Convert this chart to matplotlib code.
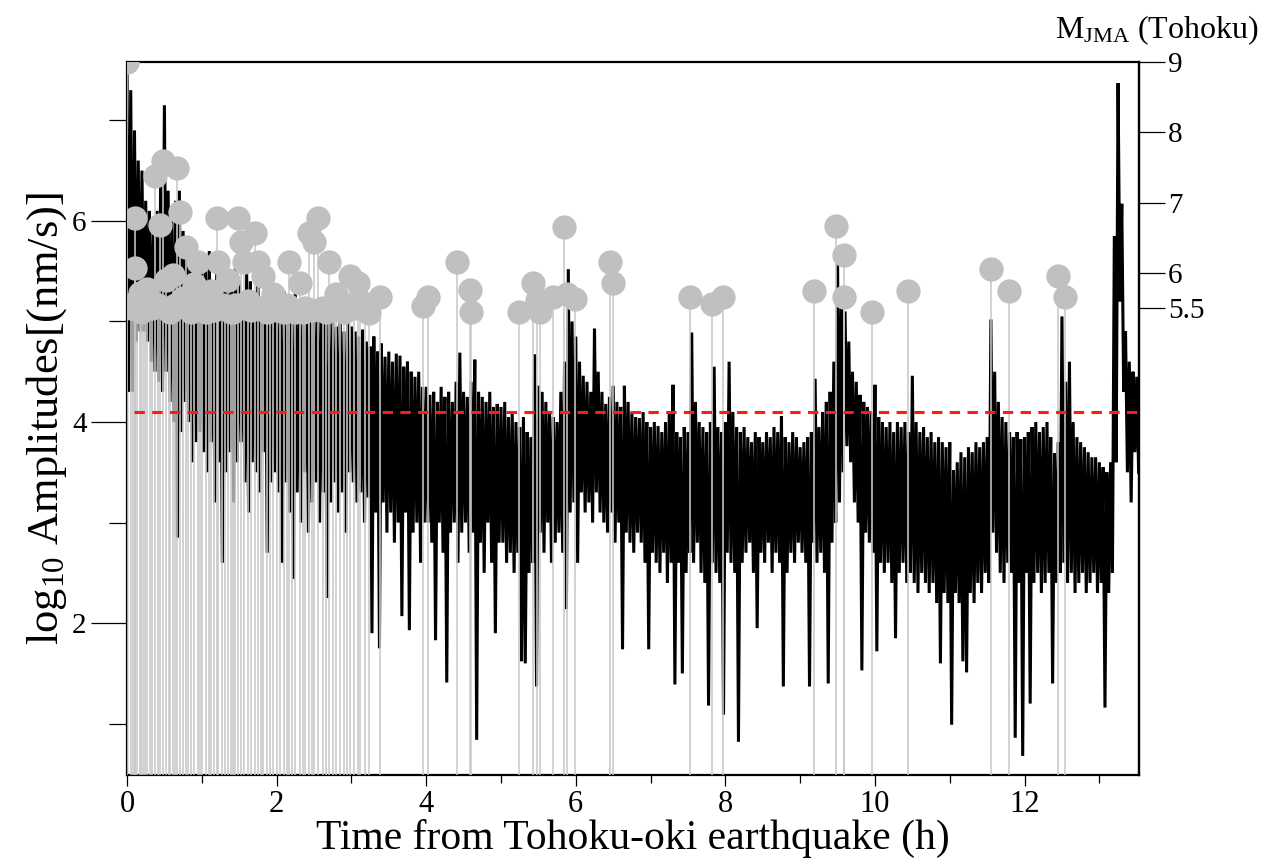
import numpy as np
import matplotlib
matplotlib.use("Agg")
import matplotlib.pyplot as plt
from matplotlib.ticker import FixedLocator

plt.rcParams['font.family'] = ['Liberation Serif', 'DejaVu Serif']
plt.rcParams['mathtext.fontset'] = 'custom'
plt.rcParams['mathtext.rm'] = 'Liberation Serif'
plt.rcParams['mathtext.it'] = 'Liberation Serif:italic'

# ---------------- data ----------------
# amplitude trace: upper / lower extremes every 0.05 h
T0, DT = 0.0, 0.05
amp_hi = [
    7.45, 7.3, 6.9, 6.6, 6.5, 6.2, 6.1, 5.9, 6.1, 6.4, 7.15, 6.3, 6.0, 6.2, 6.3, 5.9, 5.8, 5.7, 5.6, 5.5,
    5.6, 5.5, 5.7, 5.4, 5.5, 5.6, 5.3, 5.5, 5.4, 5.6, 5.4, 5.3, 5.5, 5.4, 5.3, 5.5, 5.2, 5.4, 5.3, 5.3,
    5.3, 5.2, 5.3, 5.2, 5.1, 5.3, 5.2, 5.1, 5.2, 5.0, 5.1, 5.2, 5.17, 5.0, 5.05, 5.0, 4.95, 5.05, 4.9, 5.0,
    4.95, 4.9, 4.85, 4.92, 4.8, 4.75, 4.85, 4.7, 4.78, 4.65, 4.7, 4.6, 4.68, 4.66, 4.55, 4.6, 4.5, 4.45, 4.5, 4.35,
    4.35, 4.27, 4.3, 4.2, 4.35, 4.25, 4.3, 4.2, 4.4, 4.69, 4.3, 4.25, 4.4, 4.62, 4.3, 4.25, 4.2, 4.3, 4.15, 4.18,
    4.15, 4.2, 4.05, 4.1, 4.0, 3.95, 4.05, 3.9, 3.85, 4.67, 4.36, 4.3, 4.2, 4.1, 4.05, 4.0, 4.3, 4.6, 5.52, 5.0,
    4.85, 4.6, 4.46, 4.4, 4.3, 4.93, 4.5, 4.3, 4.18, 4.25, 4.36, 4.2, 4.15, 4.36, 4.2, 4.1, 4.05, 4.04, 4.1, 4.0,
    3.95, 4.0, 3.96, 3.9, 4.0, 4.1, 4.37, 3.9, 3.85, 3.95, 3.9, 4.89, 4.2, 4.0, 3.95, 3.9, 4.0, 4.55, 3.95, 3.9,
    4.0, 4.6, 4.1, 3.95, 3.9, 3.95, 3.85, 3.8, 3.9, 3.85, 3.8, 3.9, 3.85, 3.95, 3.9, 4.06, 3.85, 3.8, 3.9, 3.85,
    3.75, 3.8, 3.85, 3.9, 4.43, 3.95, 4.1, 4.2, 4.3, 4.6, 5.57, 5.3, 5.1, 4.8, 4.5, 4.4, 4.27, 4.2, 4.15, 4.1,
    4.37, 4.05, 4.0, 3.95, 4.0, 3.9, 4.0, 3.95, 4.0, 3.9, 4.46, 4.0, 3.9, 3.95, 3.85, 3.9, 3.8, 3.85, 3.8, 3.75,
    3.8, 3.52, 3.6, 3.7, 3.65, 3.75, 3.7, 3.8, 3.75, 3.8, 3.85, 5.02, 4.5, 4.2, 4.05, 4.0, 3.9, 3.85, 3.9, 3.83,
    3.85, 3.9, 3.95, 4.0, 3.9, 3.95, 4.0, 3.85, 3.69, 3.8, 5.05, 4.4, 4.6, 4.0, 3.85, 3.8, 3.75, 3.7, 3.65, 3.65,
    3.6, 3.55, 3.5, 3.6, 5.85, 7.37, 6.17, 4.9, 4.6, 4.5, 4.45,
]
amp_lo = [
    4.3, 4.3, 4.8, 4.9, 4.9, 4.8, 4.6, 4.5, 4.4, 4.3, 4.5, 4.2, 4.0, 2.85, 3.9, 4.2, 4.0, 3.6, 3.8, 3.9,
    3.7, 3.5, 3.8, 3.2, 3.6, 2.6, 3.5, 3.7, 3.2, 3.6, 3.8, 3.4, 3.1, 3.6, 3.5, 3.3, 3.7, 2.7, 3.4, 3.5,
    3.3, 2.6, 3.4, 3.1, 2.44, 3.3, 3.0, 3.5, 2.9, 3.2, 3.4, 3.0, 3.3, 2.25, 3.2, 3.4, 3.1, 3.3, 2.9, 3.5,
    3.4, 3.2, 3.3, 3.0, 3.25, 1.9, 3.1, 1.75, 3.2, 2.9, 3.1, 2.8, 3.0, 2.07, 3.1, 1.93, 2.9, 3.0, 2.6, 3.0,
    3.0, 2.8, 1.83, 3.0, 2.7, 1.41, 2.9, 3.0, 2.6, 2.9, 3.0, 2.7, 2.9, 0.84, 2.8, 2.5, 3.0, 2.6, 1.9, 2.8,
    2.8, 2.6, 2.7, 2.5, 2.7, 1.62, 1.6, 2.5, 2.6, 1.37, 2.9, 2.7, 3.0, 2.6, 2.8, 2.9, 2.7, 2.14, 3.1, 3.2,
    2.6, 3.3, 3.1, 3.2, 3.0, 3.3, 3.1, 3.0, 2.9, 3.1, 2.8, 3.0, 1.74, 2.9, 2.8, 2.7, 2.9, 2.8, 2.6, 1.74,
    2.7, 2.6, 2.5, 2.7, 2.4, 2.6, 1.39, 2.6, 1.5, 2.5, 2.7, 2.6, 2.8, 2.5, 2.4, 1.18, 2.6, 2.5, 2.4, 1.09,
    2.7, 2.6, 2.5, 0.82, 2.6, 2.7, 2.8, 2.5, 1.95, 2.7, 2.6, 2.8, 2.5, 2.7, 2.6, 1.37, 2.5, 2.7, 2.6, 2.8,
    2.7, 2.6, 1.37, 2.8, 2.6, 2.7, 2.5, 1.4, 2.8, 3.0, 3.2, 3.5, 3.76, 3.6, 3.2, 3.0, 1.53, 2.9, 2.8, 2.7,
    1.72, 2.6, 2.5, 2.6, 2.4, 1.85, 2.5, 2.6, 2.4, 2.5, 2.4, 2.3, 2.5, 2.4, 2.3, 2.4, 2.2, 1.6, 2.3, 2.2,
    0.99, 2.3, 2.2, 1.62, 1.51, 2.3, 2.2, 2.4, 2.3, 2.5, 2.4, 2.9, 2.7, 2.5, 2.4, 2.6, 2.5, 0.86, 2.4, 0.68,
    2.5, 1.2, 2.4, 2.5, 2.3, 2.4, 2.5, 1.4, 2.4, 2.5, 2.6, 2.4, 2.5, 2.3, 2.4, 2.5, 2.3, 2.4, 2.5, 2.3,
    2.4, 1.16, 2.3, 2.5, 3.6, 5.2, 4.3, 3.5, 3.2, 3.7, 3.5,
]

# aftershocks (time in h, JMA magnitude)
ev_time = [0.00,
           0.05, 0.08, 0.11, 0.11, 0.13, 0.17, 0.19, 0.22, 0.24, 0.27, 0.31, 0.34,
           0.37, 0.41, 0.44, 0.48, 0.52, 0.56, 0.58, 0.61, 0.64, 0.67, 0.71, 0.75, 0.79, 0.82,
           0.85, 0.90, 0.95, 0.98,
           1.00, 1.06, 1.09, 1.12, 1.16, 1.20, 1.21, 1.27, 1.31, 1.35, 1.39, 1.42, 1.45, 1.49,
           1.52, 1.56, 1.62, 1.66, 1.71, 1.75, 1.79, 1.82, 1.87, 1.91, 1.95,
           2.00, 2.05, 2.10, 2.14, 2.17, 2.21, 2.25, 2.31, 2.35, 2.38, 2.43, 2.47, 2.50, 2.55,
           2.62, 2.66, 2.70, 2.75, 2.80, 2.85, 2.90, 2.94, 2.98, 3.03, 3.09, 3.12, 3.18, 3.24, 3.38,
           3.96, 4.03, 4.41, 4.58, 4.60, 5.24, 5.43, 5.48, 5.52, 5.70, 5.84, 5.88, 5.99, 6.46, 6.50,
           7.53, 7.82, 7.97, 9.18, 9.48, 9.59, 9.59, 9.96, 10.44, 11.55, 11.79, 12.45, 12.54]
ev_mag = [9.0,
          5.50, 5.55, 6.78, 6.08, 5.60, 5.72, 5.45, 5.48, 5.55, 5.78, 5.55, 5.50,
          7.38, 5.55, 6.68, 7.60, 5.90, 5.50, 5.45, 5.98, 5.55, 7.49, 6.87, 5.65, 6.37, 5.50,
          5.45, 5.85, 6.16, 5.50,
          5.60, 5.45, 5.55, 5.75, 5.48, 6.78, 6.16, 5.55, 5.50, 5.90, 5.45, 5.45, 5.55, 6.78,
          6.45, 6.16, 5.60, 5.48, 6.57, 6.16, 5.50, 5.96, 5.45, 5.52, 5.70,
          5.48, 5.50, 5.45, 5.55, 6.16, 5.48, 5.45, 5.86, 5.45, 5.50, 6.57, 5.48, 6.45, 6.78,
          5.50, 5.45, 6.16, 5.52, 5.70, 5.48, 5.45, 5.55, 5.96, 5.50, 5.86, 5.60, 5.48, 5.43, 5.66,
          5.53, 5.66, 6.16, 5.76, 5.45, 5.45, 5.86, 5.62, 5.45, 5.66, 6.66, 5.70, 5.64, 6.16, 5.86,
          5.66, 5.56, 5.66, 5.74, 6.67, 6.26, 5.66, 5.45, 5.74, 6.06, 5.74, 5.96, 5.66]

threshold = 4.1
x_ticks = [0, 2, 4, 6, 8, 10, 12]
y_ticks = [2, 4, 6]
mag_ticks = [5.5, 6, 7, 8, 9]

# ---------------- axis mapping ----------------
V_TOP, V_BOT = 7.58, 0.49
X_MAX = 13.53
M_TOP, V_PER_M = 9.0, 0.70


def m2v(m):
    return V_TOP - (M_TOP - np.asarray(m, dtype=float)) * V_PER_M


def v2m(v):
    return M_TOP - (V_TOP - np.asarray(v, dtype=float)) / V_PER_M


# ---------------- figure ----------------
fig = plt.figure(figsize=(12.75, 8.68), dpi=100)
ax = fig.add_axes([127 / 1275, 1 - 775 / 868, (1139 - 127) / 1275, (775 - 62) / 868])

hi = np.asarray(amp_hi)
lo = np.asarray(amp_lo)
t = T0 + DT * np.arange(len(hi))
xs = np.empty(2 * len(t))
ys = np.empty(2 * len(t))
xs[0::2] = t
xs[1::2] = t + DT / 2
ys[0::2] = hi
ys[1::2] = lo
ax.plot(xs, ys, color='black', lw=2.2, zorder=2, solid_joinstyle='miter')

ev_t = np.asarray(ev_time)
ev_v = m2v(ev_mag)
ax.vlines(ev_t, V_BOT, ev_v, color='#c8c8c8', lw=1.15, zorder=3)
ax.plot(ev_t, ev_v, 'o', ms=17.5, color='#c0c0c0', mec='none', zorder=4)

ax.plot([0.1, X_MAX], [threshold, threshold], color='#ff1a1a', lw=2.2,
        linestyle=(0, (3.4, 2.4)), zorder=5)

ax.set_xlim(0, X_MAX)
ax.set_ylim(V_BOT, V_TOP)

for s in ax.spines.values():
    s.set_linewidth(1.6)

ax.xaxis.set_major_locator(FixedLocator(x_ticks))
ax.xaxis.set_minor_locator(FixedLocator([1, 3, 5, 7, 9, 11, 13]))
ax.yaxis.set_major_locator(FixedLocator(y_ticks))
ax.yaxis.set_minor_locator(FixedLocator([1, 3, 5, 7]))
ax.tick_params(axis='y', which='major', direction='out', length=26, width=0.9, labelsize=21, pad=3)
ax.tick_params(axis='y', which='minor', direction='out', length=13, width=0.9)
ax.tick_params(axis='x', which='major', direction='out', length=8, width=0.9, labelsize=22, pad=3)
ax.tick_params(axis='x', which='minor', direction='out', length=6, width=0.9)

ax.set_xlabel('Time from Tohoku-oki earthquake (h)', fontsize=30, labelpad=0)
ax.set_ylabel(r'log$_{\mathregular{10}}$ Amplitudes[(nm/s)]', fontsize=32, labelpad=2)

sec = ax.secondary_yaxis('right', functions=(v2m, m2v))
sec.set_yticks(mag_ticks)
sec.set_yticklabels(['5.5', '6', '7', '8', '9'])
sec.tick_params(direction='out', length=19, width=0.9, labelsize=21, pad=2)
sec.spines['right'].set_linewidth(1.6)

fig.text(1157 / 1275, 1 - 30 / 868, r'M$_{\mathregular{JMA}}$ (Tohoku)', fontsize=23,
         ha='center', va='center')

fig.savefig('out.png', dpi=100)
